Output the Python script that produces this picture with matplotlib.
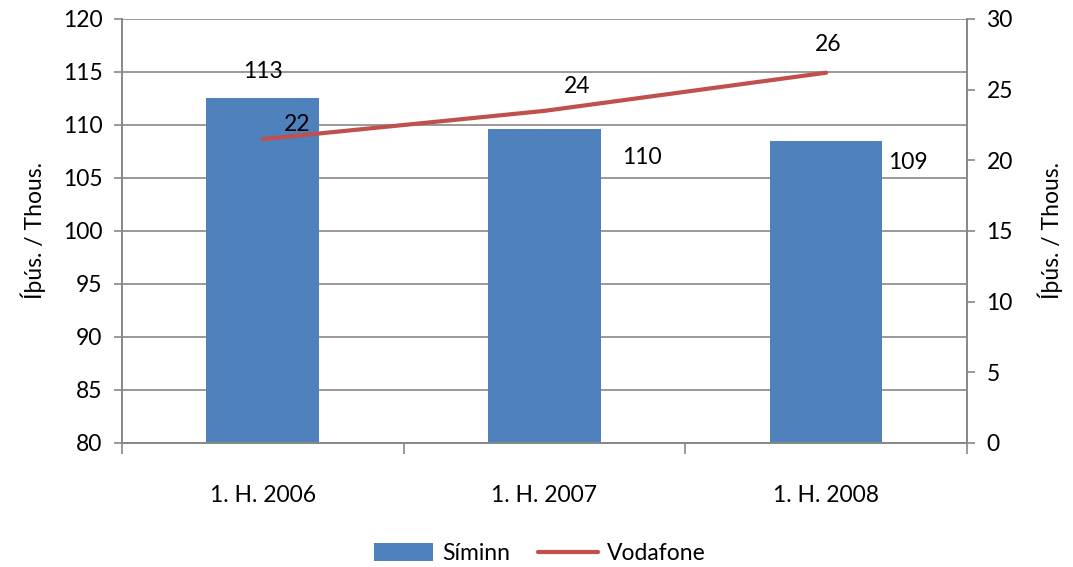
import matplotlib

matplotlib.use("Agg")
import matplotlib.pyplot as plt
import numpy as np

plt.rcParams["font.family"] = ["Lato", "DejaVu Sans"]

# Data
periods = ["1. H. 2006", "1. H. 2007", "1. H. 2008"]
siminn = [112.5, 109.6, 108.5]
vodafone = [21.5, 23.5, 26.2]

BAR_COLOR = "#4F81BD"
LINE_COLOR = "#C0504D"
GRID_COLOR = "#878787"
FS = 16.5

fig = plt.figure(figsize=(10.73, 5.67), dpi=100)
ax = fig.add_axes([0.1137, 0.2187, 0.7875, 0.7478])
ax2 = ax.twinx()

x = np.arange(len(periods))
bars = ax.bar(x, siminn, width=0.4, color=BAR_COLOR, zorder=2, label="Síminn")
line, = ax2.plot(x, vodafone, color=LINE_COLOR, linewidth=3, solid_capstyle="round",
                 label="Vodafone")

# left axis
ax.set_ylim(80, 120)
ax.set_yticks(np.arange(80, 121, 5))
ax.set_xlim(-0.5, 2.5)
ax.grid(True, axis="y", color=GRID_COLOR, linewidth=1.2, zorder=0)
ax.set_axisbelow(True)

# right axis
ax2.set_ylim(0, 30)
ax2.set_yticks(np.arange(0, 31, 5))

ax.set_xticks(x)
ax.set_xticklabels(periods)
ax.set_xticks([-0.5, 0.5, 1.5, 2.5], minor=True)
ax.tick_params(axis="x", which="major", length=0, pad=30, labelsize=FS)
ax.tick_params(axis="x", which="minor", length=8, width=1.2, color=GRID_COLOR, direction="out")
ax.tick_params(axis="y", length=6, width=1.2, color=GRID_COLOR, labelsize=FS, pad=8)
ax2.tick_params(axis="y", length=6, width=1.2, color=GRID_COLOR, labelsize=FS, pad=8)

for a in (ax, ax2):
    a.spines["top"].set_visible(False)
    for side in ("left", "right", "bottom"):
        a.spines[side].set_color(GRID_COLOR)
        a.spines[side].set_linewidth(1.2)

ax.set_ylabel("Íþús. / Thous.", fontsize=FS, labelpad=12)
ax2.set_ylabel("Íþús. / Thous.", fontsize=FS, labelpad=18, rotation=90)

# data labels (offsets in pixels, like Excel placed them)
bar_offsets = [(0, 27), (97, -28), (82, -22)]
for xi, v, off in zip(x, siminn, bar_offsets):
    ax.annotate(f"{int(v + 0.5)}", (xi, v), xytext=off, textcoords="offset pixels",
                ha="center", va="center", fontsize=FS)

line_offsets = [(34, 15), (33, 24), (2, 28)]
for xi, v, off in zip(x, vodafone, line_offsets):
    ax2.annotate(f"{int(v + 0.5)}", (xi, v), xytext=off, textcoords="offset pixels",
                 ha="center", va="center", fontsize=FS)

fig.legend(handles=[bars, line], labels=["Síminn", "Vodafone"], loc="center",
           bbox_to_anchor=(0.503, 0.024), ncol=2, frameon=False, fontsize=FS,
           handlelength=2.6, handleheight=0.8, columnspacing=1.2, handletextpad=0.4)

fig.savefig("out.png", dpi=100)
